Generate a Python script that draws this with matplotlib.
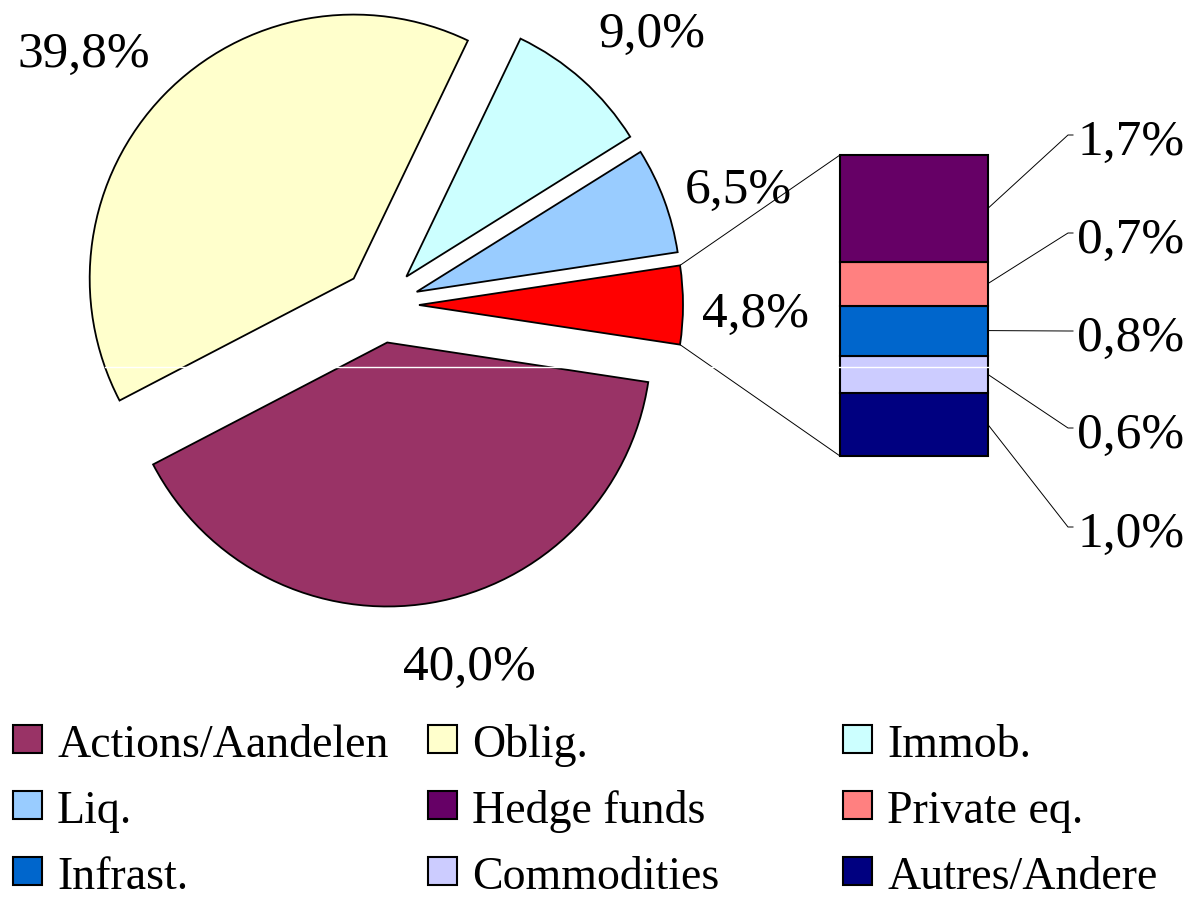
import numpy as np
import matplotlib
matplotlib.use('Agg')
import matplotlib.pyplot as plt
from matplotlib.patches import Rectangle

plt.rcParams['font.family'] = ['Liberation Serif', 'DejaVu Serif']

# pie: main asset classes (last slice is split out in the bar)
pie_labels = ['Actions/Aandelen', 'Oblig.', 'Immob.', 'Liq.', 'Autres']
pie_values = [40.0, 39.8, 9.0, 6.5, 4.8]
pie_colors = ['#993366', '#FFFFCC', '#CCFFFF', '#99CCFF', '#FF0000']

# bar: breakdown of the small slice, top to bottom
bar_labels = ['Hedge funds', 'Private eq.', 'Infrast.', 'Commodities', 'Autres/Andere']
bar_values = [1.7, 0.7, 0.8, 0.6, 1.0]
bar_colors = ['#660066', '#FF8080', '#0066CC', '#CCCCFF', '#000080']

legend_labels = ['Actions/Aandelen', 'Oblig.', 'Immob.',
                 'Liq.', 'Hedge funds', 'Private eq.',
                 'Infrast.', 'Commodities', 'Autres/Andere']
legend_colors = ['#993366', '#FFFFCC', '#CCFFFF',
                 '#99CCFF', '#660066', '#FF8080',
                 '#0066CC', '#CCCCFF', '#000080']


def fmt(v):
    return ('%.1f%%' % v).replace('.', ',')


W, H = 1193, 897
fig = plt.figure(figsize=(W / 100, H / 100), dpi=100)
ax = fig.add_axes([0, 0, 1, 1])

# work in pixel-like units, y going up
R = 264
cx, cy = 381, H - 305
total = sum(pie_values)
start = -(pie_values[-1] / 2) / total * 360
# explode is in data units here (radius is not 1)
wedges, _ = ax.pie(pie_values, colors=pie_colors, radius=R, center=(cx, cy),
                   explode=[38] * len(pie_values), startangle=start,
                   counterclock=False, frame=True,
                   wedgeprops=dict(edgecolor='black', linewidth=1.3))

# pie value labels (left x, baseline y in image pixels)
pie_pos = [(403, 680), (17, 67), (598, 47), (685, 203), (702, 327)]
for v, (x, y) in zip(pie_values, pie_pos):
    ax.text(x, H - y, fmt(v), fontsize=37, ha='left', va='baseline')

# stacked bar
bar_x0, bar_w = 840, 148
bar_bottom_px, bar_top_px = 456, 155
scale = (bar_bottom_px - bar_top_px) / sum(bar_values)
bottom = H - bar_bottom_px
mids = []
for v, c in zip(bar_values[::-1], bar_colors[::-1]):
    ax.bar(bar_x0 + bar_w / 2, v * scale, width=bar_w, bottom=bottom,
           color=c, edgecolor='black', linewidth=1.5)
    mids.append(bottom + v * scale / 2)
    bottom += v * scale
mids = mids[::-1]

# connector lines from the split slice to the bar
w = wedges[-1]
wx, wy = w.center
for ang, by in [(w.theta2, H - bar_top_px), (w.theta1, H - bar_bottom_px)]:
    px = wx + w.r * np.cos(np.radians(ang))
    py = wy + w.r * np.sin(np.radians(ang))
    ax.plot([px, bar_x0], [py, by], color='black', lw=0.7)

# bar labels with leader lines
lab_y = [135, 233, 331, 428, 527]
for v, m, ly in zip(bar_values, mids, lab_y):
    ax.plot([bar_x0 + bar_w, 1068, 1073], [m, H - ly, H - ly], color='black', lw=0.7)
    ax.text(1077, H - ly - 20, fmt(v), fontsize=37, ha='left', va='baseline')

# thin white rendering line seen in the original
ax.plot([105, bar_x0 + bar_w], [H - 367, H - 367], color='white', lw=1)

# legend, 3 columns
for i, (lab, c) in enumerate(zip(legend_labels, legend_colors)):
    row, col = divmod(i, 3)
    x0 = 13 + col * 415
    ytop = 725 + row * 66
    ax.add_patch(Rectangle((x0, H - ytop - 28), 29, 28, facecolor=c,
                           edgecolor='black', linewidth=1.5))
    ax.text(x0 + 44, H - (757 + row * 66), lab, fontsize=33,
            ha='left', va='baseline')

ax.set_xlim(0, W)
ax.set_ylim(0, H)
ax.set_aspect('equal')
ax.axis('off')

fig.savefig('out.png', dpi=100, facecolor='white')
